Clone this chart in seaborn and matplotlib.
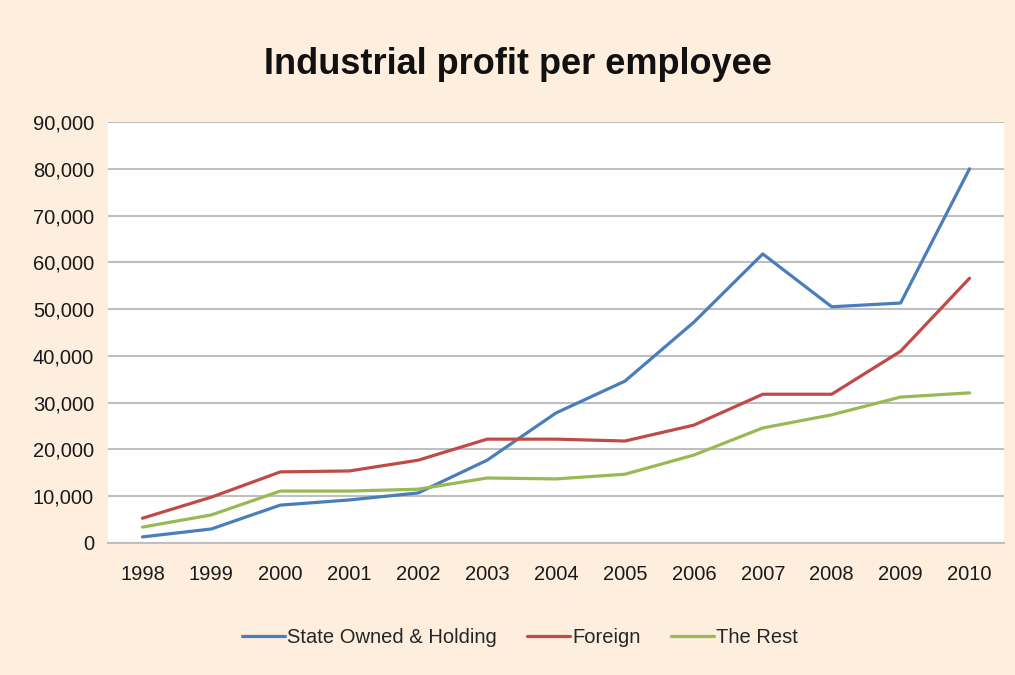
import matplotlib
matplotlib.use("Agg")
import matplotlib.pyplot as plt
import matplotlib.ticker as mticker
import seaborn as sns
import pandas as pd
from matplotlib import font_manager

years = [1998, 1999, 2000, 2001, 2002, 2003, 2004, 2005, 2006, 2007, 2008, 2009, 2010]
state_owned = [1300, 3000, 8100, 9200, 10700, 17700, 27800, 34600, 47200, 61800, 50500, 51300, 80000]
foreign = [5300, 9800, 15200, 15400, 17700, 22200, 22200, 21800, 25200, 31800, 31800, 41000, 56600]
the_rest = [3400, 6000, 11100, 11100, 11500, 13900, 13700, 14700, 18800, 24600, 27400, 31200, 32100]
series_names = ["State Owned & Holding", "Foreign", "The Rest"]
colors = ["#4A7EBB", "#BE4B48", "#98B954"]

df = pd.DataFrame({
    "Year": years * 3,
    "Value": state_owned + foreign + the_rest,
    "Series": [series_names[0]] * len(years) + [series_names[1]] * len(years) + [series_names[2]] * len(years),
})

sns.set_theme(style="white")
avail = {f.name for f in font_manager.fontManager.ttflist}
fam = "Liberation Sans Narrow" if "Liberation Sans Narrow" in avail else "Liberation Sans"
plt.rcParams["font.family"] = [fam, "DejaVu Sans"]

bg = "#FDEEDD"
fig = plt.figure(figsize=(10.15, 6.75), dpi=100, facecolor=bg)
ax = fig.add_axes([108 / 1015, 1 - 543 / 675, (1004 - 108) / 1015, (543 - 122) / 675])
ax.set_facecolor("white")

sns.lineplot(data=df, x="Year", y="Value", hue="Series", hue_order=series_names,
             palette=colors, linewidth=2.3, ax=ax, legend=True)

ax.set_xlim(1997.5, 2010.5)
ax.set_ylim(0, 90000)
ax.set_xticks(years)
ax.set_xticklabels([str(y) for y in years])
ax.set_yticks(range(0, 90001, 10000))
ax.yaxis.set_major_formatter(mticker.FuncFormatter(lambda v, p: f"{int(v):,}"))
ax.grid(axis="y", color="#BFBFBF", linewidth=1.5)
ax.grid(axis="x", visible=False)
ax.set_axisbelow(True)
for s in ["top", "right", "left"]:
    ax.spines[s].set_visible(False)
ax.spines["bottom"].set_color("#BFBFBF")
ax.spines["bottom"].set_linewidth(1.5)
ax.tick_params(axis="both", length=0, labelsize=14.5, colors="#1A1A1A")
ax.tick_params(axis="x", pad=16)
ax.tick_params(axis="y", pad=10)
ax.set_xlabel("")
ax.set_ylabel("")

fig.text(0.51, 0.904, "Industrial profit per employee", ha="center", va="center",
         fontsize=26, fontweight="bold", color="#111111")

handles, labels = ax.get_legend_handles_labels()
ax.legend(handles, labels, loc="center", bbox_to_anchor=(0.512, 0.056), bbox_transform=fig.transFigure,
          ncol=3, frameon=False, fontsize=14.5, handlelength=2.15, handletextpad=0.1,
          columnspacing=1.5)

fig.savefig("out.png", dpi=100, facecolor=bg)
